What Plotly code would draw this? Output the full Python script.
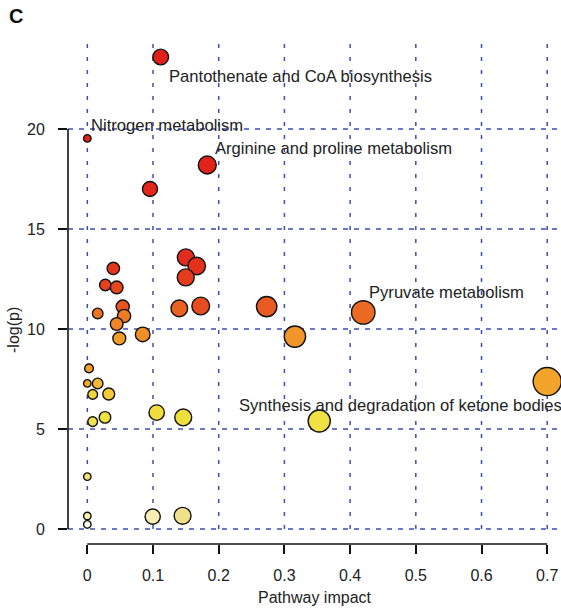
import numpy as np
import plotly.graph_objects as go

# Pathway analysis results: impact vs. -log(p), one bubble per pathway
impact = [0.1117, 0.0, 0.1826, 0.0954, 0.150, 0.1665, 0.0396, 0.1498, 0.0274, 0.0447,
          0.1726, 0.0539, 0.273, 0.140, 0.420, 0.0158, 0.0559, 0.0447, 0.0843, 0.316,
          0.0487, 0.0026, 0.700, 0.0, 0.0158, 0.0326, 0.0082, 0.1056, 0.146, 0.0269,
          0.353, 0.0082, 0.0, 0.145, 0.0, 0.0995, 0.0]
neg_log_p = [23.6, 19.53, 18.2, 17.0, 13.58, 13.15, 13.03, 12.58, 12.2, 12.08,
             11.15, 11.12, 11.12, 11.03, 10.83, 10.78, 10.65, 10.25, 9.73, 9.62,
             9.53, 8.03, 7.37, 7.28, 7.28, 6.75, 6.73, 5.82, 5.58, 5.58,
             5.4, 5.37, 2.62, 0.66, 0.65, 0.62, 0.23]

labelled_pathways = ["Pantothenate and CoA biosynthesis", "Nitrogen metabolism",
                     "Arginine and proline metabolism", "Pyruvate metabolism",
                     "Synthesis and degradation of ketone bodies"]
labelled_index = [0, 1, 2, 14, 30]

x_ticks = [0, 0.1, 0.2, 0.3, 0.4, 0.5, 0.6, 0.7]
x_tick_labels = ["0", "0.1", "0.2", "0.3", "0.4", "0.5", "0.6", "0.7"]
y_ticks = [0, 5, 10, 15, 20]
y_tick_labels = ["0", "5", "10", "15", "20"]

# ---- layout geometry ----
W, H = 561, 610
margin = dict(l=68, r=0, t=38, b=66, pad=0)
x_range = [-0.0294, 0.7210]
y_range = [-0.75, 24.55]
plot_w = W - margin["l"] - margin["r"]
plot_h = H - margin["t"] - margin["b"]
px_per_x = plot_w / (x_range[1] - x_range[0])

FONT = "Liberation Sans, Arial, sans-serif"
TXT = "#222222"
GRID = "#3a4fb4"

x = np.array(impact)
y = np.array(neg_log_p)

# bubble radius grows with sqrt(impact), expressed in x-axis units
sq = np.sqrt(x)
span = sq.max() - sq.min()
max_r, min_r = span / 40, span / 160
radius = min_r + (max_r - min_r) * (sq - sq.min()) / span
diameter = 2 * radius * px_per_x + 0.6

# colour follows significance rank (most significant = red, least = pale)
rank = np.argsort(np.argsort(-y, kind="stable"), kind="stable")
heat = [
    [0.00, "#e0201a"], [0.08, "#e2261a"], [0.25, "#e6461e"], [0.38, "#ec6622"],
    [0.50, "#f08e28"], [0.58, "#f3a02a"], [0.64, "#f3aa2c"], [0.70, "#f2cc3a"],
    [0.75, "#f0dc3c"], [0.80, "#efe23e"], [0.86, "#f0e24a"], [0.889, "#f1e474"],
    [0.917, "#efe188"], [0.944, "#f5eeb0"], [0.972, "#f6efb4"], [1.00, "#fefcef"],
]

fig = go.Figure()
fig.add_trace(go.Scatter(
    x=x, y=y, mode="markers",
    marker=dict(size=diameter, color=rank, colorscale=heat, cmin=0, cmax=len(y) - 1,
                line=dict(color="#111111", width=1.4), opacity=1),
    hoverinfo="skip", showlegend=False, cliponaxis=True,
))

# dashed reference grid
shapes = []
for t in x_ticks:
    shapes.append(dict(type="line", xref="x", yref="y", x0=t, x1=t, y0=y_ticks[0], y1=y_range[1],
                       line=dict(color=GRID, width=1.5, dash="4px,9px"), layer="below"))
for t in y_ticks:
    shapes.append(dict(type="line", xref="paper", yref="y", x0=0, x1=1, y0=t, y1=t,
                       line=dict(color=GRID, width=1.5, dash="5px,6px"), layer="below"))
# axis lines spanning only the tick range
shapes.append(dict(type="line", xref="x", yref="paper", x0=x_ticks[0], x1=x_ticks[-1], y0=0, y1=0,
                   line=dict(color="#111111", width=1.6)))
shapes.append(dict(type="line", xref="paper", yref="y", x0=0, x1=0, y0=y_ticks[0], y1=y_ticks[-1],
                   line=dict(color="#111111", width=1.6)))

# pathway name labels
label_shift = [(6, -19), (2, 13), (6, 17), (4, 20), (-82, 16)]
annotations = []
for name, idx, (dx, dy) in zip(labelled_pathways, labelled_index, label_shift):
    annotations.append(dict(x=impact[idx], y=neg_log_p[idx], xref="x", yref="y", text=name,
                            showarrow=False, xanchor="left", yanchor="middle",
                            xshift=dx, yshift=dy, font=dict(family=FONT, size=16.6, color=TXT)))
# y-axis title
annotations.append(dict(x=(13 - margin["l"]) / plot_w, y=1 - (330 - margin["t"]) / plot_h,
                        xref="paper", yref="paper", text="-log(p)", textangle=-90,
                        showarrow=False, xanchor="center", yanchor="middle",
                        font=dict(family=FONT, size=16, color=TXT)))
# panel letter
annotations.append(dict(x=(7 - margin["l"]) / plot_w, y=1 + (margin["t"] - 16.5) / plot_h,
                        xref="paper", yref="paper", text="<b>C</b>", showarrow=False,
                        xanchor="left", yanchor="middle",
                        font=dict(family=FONT, size=20, color="#111111")))

axis_common = dict(showgrid=False, zeroline=False, showline=False, ticks="outside", ticklen=9,
                   tickwidth=1.6, tickcolor="#111111",
                   tickfont=dict(family=FONT, size=16, color=TXT))

fig.update_layout(
    width=W, height=H, margin=margin,
    paper_bgcolor="white", plot_bgcolor="white",
    xaxis=dict(range=x_range, tickmode="array", tickvals=x_ticks, ticktext=x_tick_labels,
               ticklabelstandoff=8,
               title=dict(text="Pathway impact", standoff=8,
                          font=dict(family=FONT, size=16, color=TXT)),
               **axis_common),
    yaxis=dict(range=y_range, tickmode="array", tickvals=y_ticks, ticktext=y_tick_labels,
               ticklabelstandoff=10, **axis_common),
    shapes=shapes, annotations=annotations,
)

fig.write_html("out.html")
